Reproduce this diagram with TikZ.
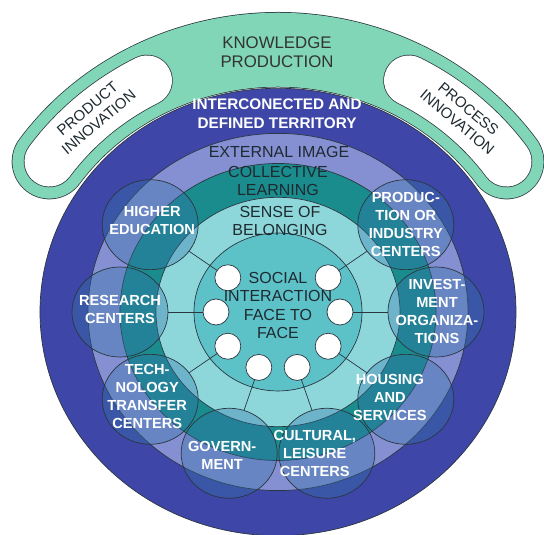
\documentclass[tikz,border=0pt]{standalone}
\usepackage{fontspec}
\setmainfont{Liberation Sans}
\usepackage{tikz}
\usetikzlibrary{shapes.geometric}
\definecolor{knowgreen}{HTML}{80D6B6}
\definecolor{darkblue}{HTML}{3E47A7}
\definecolor{midblue}{HTML}{8490D2}
\definecolor{darkteal}{HTML}{1B8C8E}
\definecolor{lightteal}{HTML}{8DD7DB}
\definecolor{innerteal}{HTML}{5DC2C8}
\definecolor{overlay}{HTML}{3272A8}
\definecolor{edgegray}{HTML}{2B3640}
\definecolor{textdark}{HTML}{1E2A30}
\tikzset{
	ring/.style={draw=edgegray,line width=0.7pt},
	smallcirc/.style={ellipse,draw=edgegray,line width=0.7pt,fill=overlay,fill opacity=0.35,minimum width=96pt,minimum height=90pt,inner sep=0pt},
	circtext/.style={text=white,text opacity=1,font=\bfseries\fontsize{14.6}{18}\selectfont,align=center,inner sep=0pt},
	ringtext/.style={text=textdark,font=\fontsize{16}{18.5}\selectfont,align=center,inner sep=0pt},
	whitedot/.style={circle,draw=edgegray,fill=white,line width=0.7pt,minimum size=26pt,inner sep=0pt},
	spoke/.style={draw=edgegray,line width=0.7pt}
}

\begin{document}
\begin{tikzpicture}[x=1pt,y=1pt,line join=round]
		\useasboundingbox (-278,-223) rectangle (266,312);
		\begin{scope}[yscale=0.94]
		% knowledge band and the two capsules
		\draw[edgegray,line width=75.5pt,line cap=round] (145:279) arc[start angle=145,end angle=35,radius=279];
		\draw[knowgreen,line width=74pt,line cap=round] (145:279) arc[start angle=145,end angle=35,radius=279];
		\draw[edgegray,line width=51.5pt,line cap=round] (145:279) arc[start angle=145,end angle=118,radius=279];
		\draw[white,line width=50pt,line cap=round] (145:279) arc[start angle=145,end angle=118,radius=279];
		\draw[edgegray,line width=51.5pt,line cap=round] (62:279) arc[start angle=62,end angle=35,radius=279];
		\draw[white,line width=50pt,line cap=round] (62:279) arc[start angle=62,end angle=35,radius=279];
		\node[ringtext,font=\fontsize{15}{17.5}\selectfont,rotate=40] (product) at (131.5:279) {PRODUCT\\INNOVATION};
		\node[ringtext,font=\fontsize{15}{17.5}\selectfont,rotate=-40] (process) at (48.5:279) {PROCESS\\INNOVATION};
		% rings
		\filldraw[ring,fill=darkblue] (0,0) circle[radius=238];
		\filldraw[ring,fill=midblue] (0,0) circle[radius=190];
		\filldraw[ring,fill=darkteal] (0,0) circle[radius=158];
		\filldraw[ring,fill=lightteal] (0,0) circle[radius=122];
		\filldraw[ring,fill=innerteal] (0,0) circle[radius=84];
		% actors
		\node[smallcirc,label={[circtext,name=higher-txt,xshift=2pt,yshift=4pt]center:HIGHER\\EDUCATION}] (higher) at (144:158) {};
		\node[smallcirc,label={[circtext,name=research-txt,yshift=3pt]center:RESEARCH\\CENTERS}] (research) at (180:158) {};
		\node[smallcirc,label={[circtext,name=transfer-txt,xshift=-3pt,yshift=3pt]center:TECH-\\NOLOGY\\TRANSFER\\CENTERS}] (transfer) at (216:158) {};
		\node[smallcirc,label={[circtext,name=govern-txt,xshift=-7pt,yshift=-2pt]center:GOVERN-\\MENT}] (govern) at (252:158) {};
		\node[smallcirc,label={[circtext,name=leisure-txt,xshift=-12pt]center:CULTURAL,\\LEISURE\\CENTERS}] (leisure) at (288:158) {};
		\node[smallcirc,label={[circtext,name=housing-txt,xshift=-16pt,yshift=2pt]center:HOUSING\\AND\\SERVICES}] (housing) at (324:158) {};
		\node[smallcirc,label={[circtext,name=invest-txt,xshift=1pt,yshift=1pt]center:INVEST-\\MENT\\ORGANIZA-\\TIONS}] (invest) at (0:158) {};
		\node[smallcirc,label={[circtext,name=industry-txt]center:PRODUC-\\TION OR\\INDUSTRY\\CENTERS}] (industry) at (36:158) {};
		% face to face points
		\node[whitedot] (higher-dot) at (144:62) {};
		\node[whitedot] (research-dot) at (180:62) {};
		\node[whitedot] (transfer-dot) at (216:62) {};
		\node[whitedot] (govern-dot) at (252:62) {};
		\node[whitedot] (leisure-dot) at (288:62) {};
		\node[whitedot] (housing-dot) at (324:62) {};
		\node[whitedot] (invest-dot) at (0:62) {};
		\node[whitedot] (industry-dot) at (36:62) {};
		\end{scope}
		\draw[spoke] (higher-dot) -- (higher);
		\draw[spoke] (research-dot) -- (research);
		\draw[spoke] (transfer-dot) -- (transfer);
		\draw[spoke] (govern-dot) -- (govern);
		\draw[spoke] (leisure-dot) -- (leisure);
		\draw[spoke] (housing-dot) -- (housing);
		\draw[spoke] (invest-dot) -- (invest);
		\draw[spoke] (industry-dot) -- (industry);
		% ring labels
		\node[ringtext,text=black!80,font=\fontsize{16.8}{19.5}\selectfont] (knowledge) at (-1,260) {KNOWLEDGE\\PRODUCTION};
		\node[circtext,font=\bfseries\fontsize{15.3}{19}\selectfont] (territory) at (-1,198) {INTERCONECTED AND\\DEFINED TERRITORY};
		\node[ringtext] (image) at (1,160) {EXTERNAL IMAGE};
		\node[ringtext] (learning) at (0,131) {COLLECTIVE\\LEARNING};
		\node[ringtext] (belonging) at (2,91) {SENSE OF\\BELONGING};
		\node[ringtext] (interaction) at (0,6.5) {SOCIAL\\INTERACTION\\FACE TO\\FACE};
\end{tikzpicture}
\end{document}
